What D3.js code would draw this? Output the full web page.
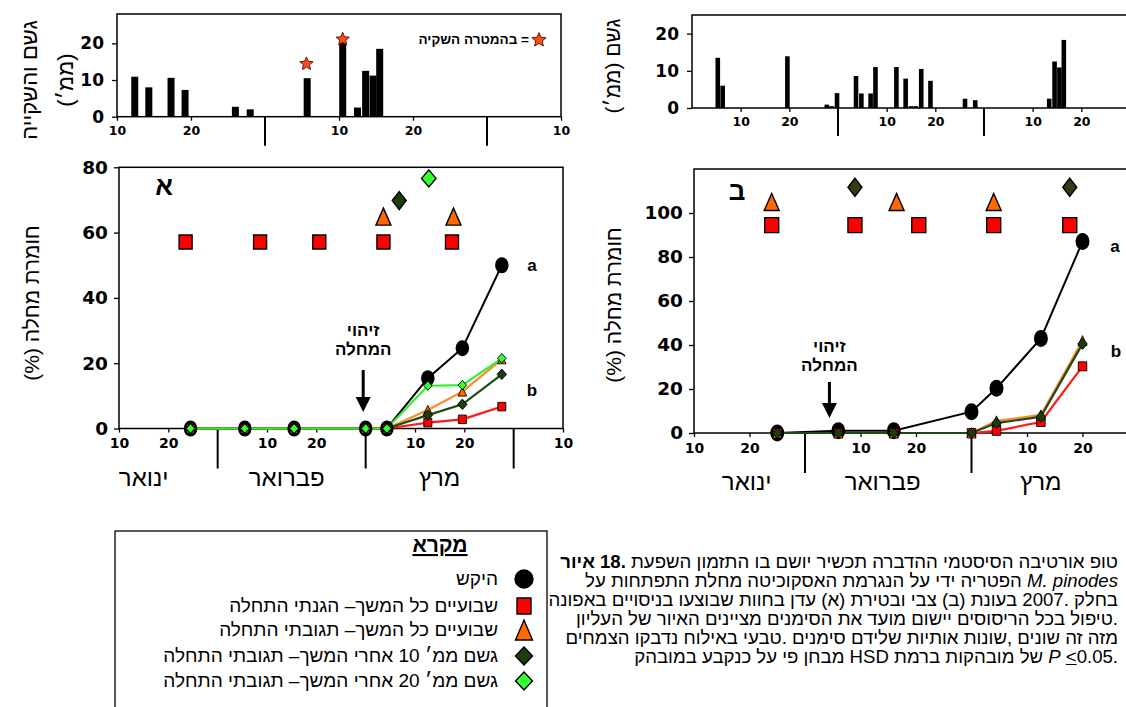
<!DOCTYPE html>
<html>
<head>
<meta charset="utf-8">
<script src="https://cdn.jsdelivr.net/npm/d3@7"></script>
<style>
  body { margin: 0; background: #fff; }
  #wrap { position: relative; width: 1126px; height: 707px; overflow: hidden; }
  svg { display: block; }
  .hline { position: absolute; display: flex; flex-direction: row; align-items: baseline;
           white-space: nowrap; direction: ltr; color: #000; }
</style>
</head>
<body>
<div id="wrap"><svg id="fig" width="1126" height="707"></svg></div>
<script>
// x values are days on the figure's time axis: every month is 30 wide
// (Jan d = d, Feb d = 30 + d, Mar d = 60 + d, Apr d = 90 + d)

// --- rain / irrigation, site A (עדן)
const rainA_day = [12.4, 14.3, 17.3, 19.2, 26, 28, 35.7, 40.5, 42.5, 43.6, 44.6, 45.5];
const rainA_mm  = [10.9, 8, 10.6, 7.3, 2.7, 2, 10.5, 20.5, 2.5, 12.5, 11.2, 18.5];
const irrigA_day = [35.6, 40.5];
const irrigA_mm  = [14.4, 21.1];

// --- rain, site B (טירת צבי)
const rainB_day = [5.3, 6.3, 19.6, 27.7, 28.7, 29.8, 33.7, 34.8, 36.7, 37.7, 42, 43.9, 45, 46, 47.1, 49, 56.1, 58.2, 73.4, 74.5, 75.5, 76.4];
const rainB_mm  = [13.5, 6, 13.9, 0.9, 0.5, 4, 8.6, 3.9, 3.9, 11, 11, 7.9, 0.5, 0.5, 10.5, 7.3, 2.5, 2.1, 2.5, 12.5, 10.9, 18.3];

// --- disease severity (%), site A
const sampleA_day = [24.5, 35.5, 45.5, 60, 64.3, 72.6, 79.6, 87.6];
const controlA  = [0, 0, 0, 0, 0, 15.4, 24.6, 50];
const preventA  = [0, 0, 0, 0, 0, 1.8, 2.8, 6.7];
const reactA    = [0, 0, 0, 0, 0, 5.7, 11.3, 21.2];
const rain10A   = [0, 0, 0, 0, 0, 4.1, 7.4, 16.6];
const rain20A   = [0, 0, 0, 0, 0, 13.1, 13.3, 21.5];

// spray dates, site A (drawn in the top of the panel)
const sprayPreventA = [23.5, 38.6, 50.6, 63.6, 77.5];
const sprayReactA   = [63.6, 77.8];
const sprayRain10A  = [66.8];
const sprayRain20A  = [72.8];
const sprayRowA = { prevent: 57.1, react: 64.9, rain10: 69.8, rain20: 76.6 };

// --- disease severity (%), site B
const sampleB_day = [25, 36, 46, 60, 64.5, 72.5, 80];
const controlB  = [0, 1, 1, 9.7, 20.3, 43, 87];
const preventB  = [0, 0, 0, 0, 1, 5, 30.3];
const reactB    = [0, 0, 0, 0, 5.5, 8.2, 42];
const rain10B   = [0, 0, 0, 0, 4.5, 7.4, 40.5];

const sprayPreventB = [24, 39, 50.5, 64, 77.7];
const sprayReactB   = [24, 46.5, 64];
const sprayRain10B  = [39, 77.7];
const sprayRowB = { prevent: 94.5, react: 105, rain10: 111.7 };

// --- axis labels
const monthSeps  = [30, 60, 90];
const monthNames = ["ינואר", "פברואר", "מרץ"];
const monthPosA  = [15, 44, 75];
const monthPosB  = [19.5, 44, 72.5];
const ticksRainA = [10, 20, 40, 50, 70];
const ticksRainB = [10, 20, 40, 50, 70, 80];
const ticksMainA = [10, 20, 40, 50, 70, 80, 100];
const ticksMainB = [10, 20, 40, 50, 70, 80];

const legendLabels = [
  "היקש",
  "התחלה הגנתי –המשך כל שבועיים",
  "התחלה תגובתי –המשך כל שבועיים",
  "התחלה תגובתי –המשך אחרי 10 ממ׳ גשם",
  "התחלה תגובתי –המשך אחרי 20 ממ׳ גשם"
];

const captionLines = [
  [["איור 18.", "b"], [" השפעת התזמון בו יושם תכשיר ההדברה הסיסטמי אורטיבה טופ", ""]],
  [["על התפתחות מחלת האסקוכיטה הנגרמת על ידי הפטריה", ""], [" M. pinodes", "i"]],
  [["באפונה בניסויים שבוצעו בחוות עדן (א) ובטירת צבי (ב) בעונת 2007. בחלק", ""]],
  [["העליון של האיור מציינים הסימנים את מועד יישום הריסוסים בכל טיפול.", ""]],
  [["הצמחים נדבקו באילוח טבעי. סימנים שלידם אותיות שונות, שונים זה מזה", ""]],
  [["במובהק כנקבע על פי מבחן HSD ברמת מובהקות של ", ""], ["P", "i"], [" ", ""], ["<", "u"], ["0.05.", ""]]
];

// ------------------------------------------------------------------
const svg = d3.select("#fig");
const wrap = d3.select("#wrap");
const HEB = '"Liberation Sans", Arial, "DejaVu Sans", sans-serif';
const NUM = '"DejaVu Sans", sans-serif';

const styles = {
  control: { shape: "circle",   fill: "#000",    line: "#000",    lw: 2 },
  prevent: { shape: "square",   fill: "#ff0000", line: "#ff1a1a", lw: 2.2 },
  react:   { shape: "triangle", fill: "#ff6a00", line: "#ff8a2a", lw: 2.2 },
  rain10:  { shape: "diamond",  fill: "#1b3d0e", line: "#1d4a16", lw: 2.2 },
  rain20:  { shape: "diamond",  fill: "#33ff33", line: "#33ee33", lw: 2.2 }
};

function shape(type, w, h) {
  const a = w / 2, b = h / 2;
  if (type === "square") return `M${-a},${-b}H${a}V${b}H${-a}Z`;
  if (type === "triangle") return `M0,${-b}L${a},${b}L${-a},${b}Z`;
  if (type === "diamond") return `M0,${-b}L${a},0L0,${b}L${-a},0Z`;
  if (type === "circle") return `M${-a},0A${a},${b} 0 1,0 ${a},0A${a},${b} 0 1,0 ${-a},0Z`;
  if (type === "star") {
    const p = [];
    for (let k = 0; k < 10; k++) {
      const r = k % 2 ? a * 0.45 : a;
      const ang = -Math.PI / 2 + k * Math.PI / 5;
      p.push([r * Math.cos(ang), r * Math.sin(ang)]);
    }
    return "M" + p.map(q => q.join(",")).join("L") + "Z";
  }
}

// split styled parts into words; the source figure sets the words left to right
function toWords(parts) {
  const words = [[]];
  parts.forEach(([s, f]) => {
    s.split(" ").forEach((frag, k) => {
      if (k > 0) words.push([]);
      if (frag) words[words.length - 1].push([frag, f]);
    });
  });
  return words.filter(w => w.length);
}

// one line of html text, right edge at xRight, baseline at yBase
function htmlLine(xRight, yBase, size, parts) {
  const div = wrap.append("div").attr("class", "hline")
    .style("right", (1126 - xRight) + "px")
    .style("top", (yBase - 0.8465 * size) + "px")
    .style("font-family", HEB).style("font-size", size + "px").style("line-height", size + "px")
    .style("gap", "0.278em");
  toWords(parts).forEach(w => {
    const span = div.append("span");
    w.forEach(([s, f]) => {
      span.append("span")
        .style("font-weight", f.includes("b") ? "bold" : null)
        .style("font-style", f.includes("i") ? "italic" : null)
        .style("text-decoration", f.includes("u") ? "underline" : null)
        .text(s);
    });
  });
  return div;
}

function frame(g, x, y) {
  g.append("rect")
    .attr("x", x.range()[0]).attr("y", y.range()[1])
    .attr("width", x.range()[1] - x.range()[0])
    .attr("height", y.range()[0] - y.range()[1])
    .attr("fill", "none").attr("stroke", "#000").attr("stroke-width", 1.5);
}

function axes(g, x, y, o) {
  g.append("g")
    .attr("transform", `translate(${x.range()[0]},0)`)
    .call(d3.axisLeft(y).tickValues(o.yTicks).tickSize(5).tickSizeOuter(0).tickPadding(o.yPad || 4))
    .call(a => a.select(".domain").remove())
    .call(a => a.selectAll("line").attr("stroke", "#000").attr("stroke-width", 1.3))
    .call(a => a.selectAll("text").attr("font-family", NUM).attr("font-weight", "bold")
      .attr("font-size", o.yFont).attr("fill", "#000"));

  g.append("g")
    .attr("transform", `translate(0,${y(0)})`)
    .call(d3.axisBottom(x).tickValues(o.xTicks).tickSize(4).tickSizeOuter(0)
      .tickPadding(o.xPad).tickFormat(d => d % 30))
    .call(a => a.select(".domain").remove())
    .call(a => a.selectAll("line").attr("stroke", "#000").attr("stroke-width", 1.3))
    .call(a => a.selectAll("text").attr("font-family", NUM).attr("font-weight", "bold")
      .attr("font-size", o.xFont).attr("fill", "#000"));

  g.selectAll("line.sep").data(monthSeps.filter(d => d > x.domain()[0] && d < x.domain()[1]))
    .join("line").attr("class", "sep")
    .attr("x1", d => x(d)).attr("x2", d => x(d))
    .attr("y1", y(0)).attr("y2", y(0) + o.sepLen)
    .attr("stroke", "#000").attr("stroke-width", 2);
}

function yTitle(lines, cx, cy, size) {
  lines.forEach((t, i) => {
    svg.append("text")
      .attr("transform", `translate(${cx[i]},${cy}) rotate(-90)`)
      .attr("text-anchor", "middle").attr("dominant-baseline", "central")
      .attr("direction", "rtl")
      .attr("font-family", HEB).attr("font-size", size).attr("fill", "#000")
      .text(t);
  });
}

// ---------------- rain panels
function rainPanel(p, days, mm) {
  const x = d3.scaleLinear().domain(p.xDomain).range(p.xRange);
  const y = d3.scaleLinear().domain(p.yDomain).range(p.yRange);
  const g = svg.append("g");
  g.selectAll("rect.bar").data(days).join("rect").attr("class", "bar")
    .attr("x", d => x(d) - p.barW / 2)
    .attr("y", (d, i) => y(mm[i]))
    .attr("width", p.barW)
    .attr("height", (d, i) => y(0) - y(mm[i]))
    .attr("fill", "#000");
  frame(g, x, y);
  axes(g, x, y, { yTicks: [0, 10, 20], xTicks: p.xTicks, yFont: 17, xFont: 12.5, xPad: 5, sepLen: p.sepLen, yPad: 8 });
  return { g, x, y };
}

const rA = rainPanel({ xDomain: [10, 70], xRange: [117, 561], yDomain: [0, 28], yRange: [116.7, 14],
  barW: 7, xTicks: ticksRainA, sepLen: 29 }, rainA_day, rainA_mm);

rA.g.selectAll("path.star").data(irrigA_day).join("path").attr("class", "star")
  .attr("d", shape("star", 14))
  .attr("transform", (d, i) => `translate(${rA.x(d)},${rA.y(irrigA_mm[i])})`)
  .attr("fill", "#ff4a1a").attr("stroke", "#4a1000").attr("stroke-width", 0.9);

// star legend
rA.g.append("path").attr("d", shape("star", 15))
  .attr("transform", "translate(539,40)")
  .attr("fill", "#ff4a1a").attr("stroke", "#4a1000").attr("stroke-width", 0.9);
htmlLine(529, 44.5, 13.5, [["השקיה בהמטרה =", "b"]]);

const rB = rainPanel({ xDomain: [0, 90], xRange: [692, 1130], yDomain: [0, 25], yRange: [108, 15],
  barW: 4.6, xTicks: ticksRainB, sepLen: 28 }, rainB_day, rainB_mm);

yTitle(["גשם והשקייה", "(ממ׳)"], [29, 65], 80, 22);
yTitle(["גשם (ממ׳)"], [612], 66, 21);

// ---------------- disease panels
function mainPanel(p, days, series, sprays) {
  const x = d3.scaleLinear().domain(p.xDomain).range(p.xRange);
  const y = d3.scaleLinear().domain(p.yDomain).range(p.yRange);
  const g = svg.append("g");
  frame(g, x, y);
  axes(g, x, y, { yTicks: p.yTicks, xTicks: p.xTicks, yFont: 18.5, xFont: 14, xPad: 6, sepLen: 40, yPad: 6 });

  // month names
  g.selectAll("text.month").data(monthNames).join("text").attr("class", "month")
    .attr("x", (d, i) => x(p.monthPos[i])).attr("y", y(0) + 57)
    .attr("text-anchor", "middle").attr("direction", "rtl")
    .attr("font-family", HEB).attr("font-size", 24).text(d => d);

  // severity curves
  const line = d3.line().x((d, i) => x(days[i])).y(d => y(d));
  series.forEach(s => {
    const st = styles[s.key];
    g.append("path").datum(s.values).attr("d", line)
      .attr("fill", "none").attr("stroke", st.line).attr("stroke-width", st.lw);
  });
  series.forEach(s => {
    const st = styles[s.key];
    g.selectAll(null).data(s.values).join("path")
      .attr("d", shape(st.shape, s.w, s.h))
      .attr("transform", (d, i) => `translate(${x(days[i])},${y(d)})`)
      .attr("fill", st.fill).attr("stroke", "#000").attr("stroke-width", s.key === "control" ? 0 : 0.9);
  });

  // spray dates
  sprays.forEach(s => {
    g.selectAll(null).data(s.days).join("path")
      .attr("d", shape(styles[s.key].shape, s.w, s.h))
      .attr("transform", d => `translate(${x(d)},${y(s.level)})`)
      .attr("fill", s.fill || styles[s.key].fill).attr("stroke", "#000").attr("stroke-width", 1.4);
  });

  // significance letters
  g.append("text").attr("x", p.aPos[0]).attr("y", p.aPos[1]).attr("font-family", HEB)
    .attr("font-weight", "bold").attr("font-size", 17).attr("text-anchor", "middle").text("a");
  g.append("text").attr("x", p.bPos[0]).attr("y", p.bPos[1]).attr("font-family", HEB)
    .attr("font-weight", "bold").attr("font-size", 17).attr("text-anchor", "middle").text("b");

  // panel letter
  g.append("text").attr("x", p.letterPos[0]).attr("y", p.letterPos[1]).attr("text-anchor", "middle")
    .attr("font-family", HEB).attr("font-weight", "bold").attr("font-size", 26).text(p.letter);

  // disease detection note + arrow
  const ax = x(p.arrowDay);
  g.append("text").attr("x", ax).attr("y", p.noteY).attr("text-anchor", "middle")
    .attr("font-family", HEB).attr("font-weight", "bold").attr("font-size", 17).text("זיהוי");
  g.append("text").attr("x", ax).attr("y", p.noteY + 19).attr("text-anchor", "middle")
    .attr("font-family", HEB).attr("font-weight", "bold").attr("font-size", 17).text("המחלה");
  g.append("line").attr("x1", ax).attr("x2", ax).attr("y1", p.arrowY[0]).attr("y2", p.arrowY[1] - 12)
    .attr("stroke", "#000").attr("stroke-width", 3);
  g.append("path").attr("d", `M${ax - 7.5},${p.arrowY[1] - 15}L${ax + 7.5},${p.arrowY[1] - 15}L${ax},${p.arrowY[1]}Z`)
    .attr("fill", "#000");
  return { g, x, y };
}

mainPanel({
  xDomain: [10, 100], xRange: [119, 563], yDomain: [0, 80], yRange: [428.5, 167.3],
  yTicks: [0, 20, 40, 60, 80], xTicks: ticksMainA, monthPos: monthPosA,
  aPos: [532, 271], bPos: [532, 396], letter: "א", letterPos: [164, 195],
  arrowDay: 59.5, noteY: 336, arrowY: [370, 412]
}, sampleA_day, [
  { key: "control", values: controlA, w: 13.5, h: 16 },
  { key: "prevent", values: preventA, w: 8, h: 8.5 },
  { key: "react",   values: reactA,   w: 8.5, h: 9 },
  { key: "rain10",  values: rain10A,  w: 9.5, h: 10.5 },
  { key: "rain20",  values: rain20A,  w: 8.5, h: 9.5 }
], [
  { key: "prevent", days: sprayPreventA, level: sprayRowA.prevent, w: 13, h: 14 },
  { key: "react",   days: sprayReactA,   level: sprayRowA.react,   w: 15, h: 17 },
  { key: "rain10",  days: sprayRain10A,  level: sprayRowA.rain10,  w: 14, h: 18 },
  { key: "rain20",  days: sprayRain20A,  level: sprayRowA.rain20,  w: 14.5, h: 17 }
]);

mainPanel({
  xDomain: [10, 90], xRange: [694, 1138], yDomain: [0, 120], yRange: [433, 169],
  yTicks: [0, 20, 40, 60, 80, 100], xTicks: ticksMainB, monthPos: monthPosB,
  aPos: [1115, 252], bPos: [1116, 357], letter: "ב", letterPos: [737, 200],
  arrowDay: 34.4, noteY: 352, arrowY: [382, 418]
}, sampleB_day, [
  { key: "control", values: controlB, w: 14, h: 17 },
  { key: "prevent", values: preventB, w: 8.5, h: 9 },
  { key: "react",   values: reactB,   w: 9, h: 10 },
  { key: "rain10",  values: rain10B,  w: 9.5, h: 11 }
], [
  { key: "prevent", days: sprayPreventB, level: sprayRowB.prevent, w: 14, h: 15 },
  { key: "react",   days: sprayReactB,   level: sprayRowB.react,   w: 15, h: 17 },
  { key: "rain10",  days: sprayRain10B,  level: sprayRowB.rain10,  w: 14, h: 18, fill: "#3a3a12" }
]);

yTitle(["חומרת מחלה (%)"], [31], 303, 21);
yTitle(["חומרת מחלה (%)"], [613], 305, 21);

// ---------------- legend
const leg = svg.append("g");
leg.append("rect").attr("x", 115).attr("y", 531).attr("width", 432).attr("height", 200)
  .attr("fill", "none").attr("stroke", "#000").attr("stroke-width", 1.3);
leg.append("text").attr("x", 440).attr("y", 552).attr("text-anchor", "middle")
  .attr("font-family", HEB).attr("font-weight", "bold").attr("font-size", 21)
  .attr("text-decoration", "underline").text("מקרא");
const legKeys = ["control", "prevent", "react", "rain10", "rain20"];
const legSize = [[18, 18], [14, 16], [17, 20], [17, 18], [17, 18]];
const legRows = [579, 606, 630, 656, 681];
leg.selectAll("path.mk").data(legKeys).join("path").attr("class", "mk")
  .attr("d", (k, i) => shape(styles[k].shape, legSize[i][0], legSize[i][1]))
  .attr("transform", (k, i) => `translate(524,${legRows[i]})`)
  .attr("fill", k => styles[k].fill).attr("stroke", "#000").attr("stroke-width", 1.4);
legendLabels.forEach((d, i) => htmlLine(498, legRows[i] + 6, 19, [[d, ""]]));

// ---------------- caption
captionLines.forEach((parts, i) => htmlLine(1118, 569 + i * 19, 18.6, parts));
</script>
</body>
</html>
